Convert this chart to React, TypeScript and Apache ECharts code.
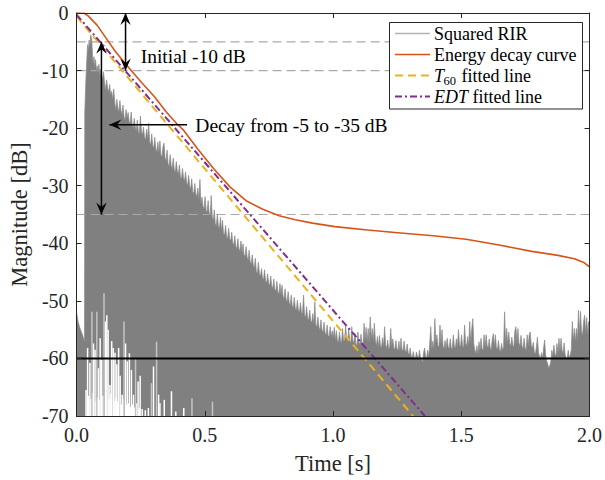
import React, { useEffect, useRef } from "react";
import * as echarts from "echarts";

// ---------- data ----------
const xMin = 0;
const xMax = 2;
const xInterval = 0.5;
const yMin = -70;
const yMax = 0;
const yInterval = 10;

// upper envelope of the squared RIR [time s, level dB]
const rirEnvelope: number[][] = [
  [0.000,-52.0],[0.006,-53.6],[0.012,-54.6],[0.018,-55.3],[0.024,-56.0],[0.029,-56.8],[0.031,-57.0],
  [0.032,-17.3],[0.036,-12.0],[0.040,-8.0],[0.043,-5.5],[0.046,-6.4],[0.049,-4.7],[0.052,-5.8],[0.055,-3.8],
  [0.059,-4.4],[0.062,-7.2],[0.065,-8.8],[0.068,-7.6],[0.071,-9.3],[0.074,-8.1],[0.078,-10.0],[0.081,-9.2],
  [0.084,-10.3],[0.087,-8.9],[0.091,-10.8],[0.094,-9.8],[0.098,-11.2],
  [0.101,-11.4],[0.105,-10.2],[0.109,-12.0],[0.113,-13.4],[0.117,-11.6],[0.121,-13.0],[0.125,-13.8],[0.129,-12.4],
  [0.133,-14.2],[0.137,-13.6],[0.141,-15.0],[0.145,-13.2],[0.149,-15.6],[0.153,-16.8],[0.157,-15.0],[0.161,-16.4],
  [0.165,-17.2],[0.169,-15.2],[0.173,-16.9],[0.177,-17.6],[0.181,-16.0],[0.185,-18.0],[0.189,-18.6],[0.193,-16.8],
  [0.197,-18.2],[0.201,-17.3],[0.205,-18.8],[0.209,-19.2],[0.213,-17.2],[0.217,-19.4],[0.221,-20.0],[0.225,-18.3],
  [0.229,-19.8],[0.233,-20.4],[0.237,-18.6],[0.241,-20.6],[0.245,-21.0],[0.249,-17.9],[0.253,-20.5],[0.257,-21.2],
  [0.261,-19.8],[0.265,-21.6],[0.269,-22.0],[0.273,-20.2],[0.277,-21.9],[0.281,-19.1],[0.285,-22.4],[0.289,-22.9],
  [0.293,-21.0],[0.297,-23.0],[0.301,-23.4],[0.305,-21.6],[0.309,-23.6],[0.313,-24.1],[0.317,-22.4],[0.321,-24.2],
  [0.325,-22.2],[0.329,-24.6],[0.333,-25.0],[0.337,-23.2],[0.341,-22.6],[0.345,-25.2],[0.349,-25.6],[0.353,-23.8],
  [0.357,-26.2],[0.361,-26.6],[0.365,-24.6],[0.369,-26.5],[0.373,-27.0],[0.377,-25.2],[0.381,-27.2],[0.385,-27.6],
  [0.389,-25.8],[0.393,-27.5],[0.397,-28.0],[0.401,-26.4],[0.405,-28.4],[0.409,-28.8],[0.413,-27.0],[0.417,-28.6],
  [0.421,-29.2],[0.425,-27.6],[0.429,-29.5],[0.433,-29.9],[0.437,-28.2],[0.441,-30.0],[0.445,-30.6],[0.449,-28.8],
  [0.453,-31.0],[0.457,-31.4],[0.461,-29.6],[0.465,-31.4],[0.469,-31.9],[0.473,-30.4],[0.477,-32.4],[0.481,-28.9],
  [0.485,-33.0],[0.489,-32.0],[0.493,-33.6],[0.497,-34.0],[0.501,-31.9],[0.505,-34.2],[0.509,-34.6],[0.513,-32.6],
  [0.517,-34.8],[0.521,-35.1],[0.525,-31.7],[0.529,-35.3],
  [0.533,-36.0],[0.537,-34.2],[0.541,-36.6],[0.545,-36.9],[0.549,-34.9],[0.553,-37.0],[0.557,-37.4],[0.561,-35.5],
  [0.565,-37.8],[0.569,-36.0],[0.573,-38.3],[0.577,-38.6],[0.581,-36.9],[0.585,-38.8],[0.589,-39.2],[0.593,-37.4],
  [0.597,-39.2],[0.601,-39.6],[0.605,-38.1],[0.609,-39.9],[0.613,-40.3],[0.617,-38.7],[0.621,-40.5],[0.625,-40.9],
  [0.629,-39.2],[0.633,-41.0],[0.637,-41.3],[0.641,-39.6],[0.645,-41.6],[0.649,-40.1],[0.653,-42.0],[0.657,-42.3],
  [0.661,-40.6],[0.665,-42.4],[0.669,-42.9],[0.673,-41.2],[0.677,-43.2],[0.681,-43.6],[0.685,-42.0],[0.689,-43.8],
  [0.693,-44.3],[0.697,-42.6],[0.701,-44.9],[0.705,-45.2],[0.709,-43.3],[0.713,-45.3],[0.717,-45.7],[0.721,-44.4],
  [0.725,-46.0],[0.729,-46.3],[0.733,-44.6],[0.737,-46.5],[0.741,-46.9],[0.745,-45.3],[0.749,-47.0],[0.753,-47.3],
  [0.757,-45.7],[0.761,-47.4],[0.765,-47.8],[0.769,-46.2],[0.773,-48.0],[0.777,-48.3],[0.781,-46.6],[0.785,-48.4],
  [0.789,-48.8],[0.793,-47.0],[0.797,-48.9],[0.801,-47.3],[0.805,-49.2],[0.809,-49.6],[0.813,-47.9],[0.817,-49.7],
  [0.821,-50.1],[0.825,-48.4],[0.829,-50.3],[0.833,-50.7],[0.837,-49.0],[0.841,-50.8],[0.845,-51.1],[0.849,-49.4],
  [0.853,-51.3],[0.857,-51.6],[0.861,-49.9],[0.865,-51.6],[0.869,-52.0],[0.873,-50.3],[0.877,-52.0],[0.881,-52.3],
  [0.885,-49.0],[0.889,-52.5],[0.893,-52.8],[0.897,-51.0],[0.901,-53.0],[0.905,-53.3],[0.909,-51.6],[0.913,-53.4],
  [0.917,-53.8],[0.921,-52.2],[0.925,-54.0],[0.929,-50.2],[0.933,-54.2],[0.937,-54.5],[0.941,-52.8],[0.945,-54.6],
  [0.949,-55.0],[0.953,-53.3],[0.957,-55.1],[0.961,-55.4],[0.965,-53.7],[0.969,-55.6],[0.973,-55.9],[0.977,-54.2],
  [0.981,-56.0],[0.985,-56.2],[0.989,-54.5],[0.993,-56.2],[0.997,-55.2],
  [1.001,-56.4],[1.005,-54.6],[1.009,-56.8],[1.013,-55.2],[1.017,-56.9],[1.021,-57.2],[1.025,-55.4],[1.029,-56.9],
  [1.033,-57.3],[1.037,-54.8],[1.041,-56.8],[1.045,-57.0],[1.049,-54.2],[1.053,-56.5],[1.057,-57.1],[1.061,-54.8],
  [1.065,-56.9],[1.069,-57.3],[1.073,-54.5],[1.077,-56.8],[1.081,-57.4],[1.085,-55.6],[1.089,-57.5],[1.093,-57.8],
  [1.097,-55.4],[1.101,-57.2],[1.105,-57.6],[1.109,-55.8],[1.113,-57.4],[1.117,-57.8],[1.121,-53.9],[1.125,-56.8],
  [1.129,-54.6],[1.133,-57.0],[1.137,-54.8],[1.141,-57.1],[1.145,-52.8],[1.149,-56.6],[1.153,-54.8],[1.157,-57.0],
  [1.161,-53.9],[1.165,-56.8],[1.169,-57.8],[1.173,-56.2],[1.177,-58.0],[1.181,-56.0],[1.185,-57.8],[1.189,-58.1],
  [1.193,-56.4],[1.197,-57.9],[1.201,-54.5],[1.205,-57.6],[1.209,-58.3],[1.213,-56.8],[1.217,-58.4],[1.221,-58.0],
  [1.225,-54.8],[1.229,-57.8],[1.233,-56.6],[1.237,-58.2],[1.241,-58.4],[1.245,-56.9],[1.249,-58.3],[1.253,-58.6],
  [1.257,-57.0],[1.261,-58.7],[1.265,-56.5],[1.269,-58.4],[1.273,-58.7],[1.277,-57.0],[1.281,-58.6],[1.285,-58.9],
  [1.289,-57.5],[1.293,-59.0],[1.297,-59.3],[1.301,-58.2],[1.305,-59.6],[1.309,-59.8],[1.313,-58.8],[1.317,-59.9],
  [1.321,-60.1],[1.325,-58.9],[1.329,-59.6],[1.333,-60.0],[1.337,-58.6],[1.341,-59.8],[1.345,-60.2],[1.349,-60.6],
  [1.353,-59.0],[1.357,-58.2],[1.361,-59.7],[1.365,-59.9],[1.369,-58.6],[1.373,-59.6],[1.377,-57.5],[1.381,-54.5],
  [1.385,-58.3],[1.389,-57.0],[1.393,-58.4],[1.397,-53.1],[1.401,-57.2],[1.405,-55.9],[1.409,-57.8],[1.413,-58.0],
  [1.417,-54.2],[1.421,-57.4],[1.425,-55.0],[1.429,-57.8],[1.433,-58.3],[1.437,-56.9],[1.441,-58.2],[1.445,-56.5],
  [1.449,-58.0],[1.453,-58.3],[1.457,-56.6],[1.461,-58.1],[1.465,-58.4],[1.469,-55.9],[1.473,-57.9],[1.477,-58.2],
  [1.481,-56.6],[1.485,-58.0],[1.489,-55.0],[1.493,-57.6],[1.497,-58.0],[1.501,-55.9],[1.505,-57.8],[1.509,-58.1],
  [1.513,-54.2],[1.517,-57.4],[1.521,-57.8],[1.525,-56.2],[1.529,-57.9],[1.533,-53.6],[1.537,-57.3],[1.541,-54.8],
  [1.545,-53.1],[1.549,-57.5],[1.553,-58.6],[1.557,-59.0],[1.561,-57.8],[1.565,-59.2],[1.569,-57.1],[1.573,-58.6],
  [1.577,-56.5],[1.581,-58.3],[1.585,-58.6],[1.589,-55.9],[1.593,-58.0],[1.597,-55.9],[1.601,-57.8],[1.605,-58.1],
  [1.609,-56.6],[1.613,-58.2],[1.617,-58.5],[1.621,-56.6],[1.625,-55.7],[1.629,-57.9],[1.633,-55.9],[1.637,-58.1],
  [1.641,-58.4],[1.645,-56.9],[1.649,-58.5],[1.653,-58.8],[1.657,-57.4],[1.661,-58.6],[1.665,-58.0],[1.669,-51.9],
  [1.673,-57.5],[1.677,-54.8],[1.681,-57.6],[1.685,-55.4],[1.689,-57.4],[1.693,-57.8],[1.697,-56.3],[1.701,-57.7],
  [1.705,-58.0],[1.709,-55.2],[1.713,-54.5],[1.717,-57.3],[1.721,-54.8],[1.725,-57.4],[1.729,-57.8],[1.733,-56.0],
  [1.737,-57.9],[1.741,-58.3],[1.745,-56.5],[1.749,-58.2],[1.753,-58.5],[1.757,-55.9],[1.761,-57.9],[1.765,-55.9],
  [1.769,-55.4],[1.773,-57.8],[1.777,-58.1],[1.781,-57.2],[1.785,-58.9],[1.789,-59.2],[1.793,-58.0],[1.797,-56.3],
  [1.801,-59.0],[1.805,-59.6],[1.809,-60.0],[1.813,-59.0],[1.817,-60.1],[1.821,-58.2],[1.825,-56.8],[1.829,-59.4],
  [1.833,-60.4],[1.837,-60.9],[1.841,-61.7],[1.845,-61.3],[1.849,-60.6],[1.853,-58.6],[1.857,-59.5],[1.861,-57.7],
  [1.865,-59.2],[1.869,-59.6],[1.873,-57.4],[1.877,-59.0],[1.881,-56.5],[1.885,-58.8],[1.889,-56.5],[1.893,-58.6],
  [1.897,-59.0],[1.901,-57.3],[1.905,-59.3],[1.909,-59.8],[1.913,-60.1],[1.917,-58.6],[1.921,-60.0],[1.925,-59.4],
  [1.929,-58.5],[1.933,-53.6],[1.937,-56.9],[1.941,-54.8],[1.945,-57.0],[1.949,-54.8],[1.953,-56.8],[1.957,-51.6],
  [1.961,-55.6],[1.965,-51.8],[1.969,-55.4],[1.973,-55.9],[1.977,-53.6],[1.981,-52.5],[1.985,-55.6],[1.989,-52.9],
  [1.993,-55.8],[1.997,-53.6],[2.000,-55.0]
];

// places where the squared RIR stays above a level (white gaps at the bottom) [time, top of gap dB]
const rirGaps: number[][] = [
  [0.037,-65.5],[0.043,-58.2],[0.047,-66.5],[0.052,-60.8],[0.056,-67.0],[0.062,-66.0],[0.066,-57.4],[0.072,-58.5],
  [0.076,-67.5],[0.081,-66.8],[0.085,-61.7],[0.088,-67.2],[0.092,-56.5],[0.098,-60.2],[0.103,-66.5],[0.112,-53.6],
  [0.118,-52.5],[0.123,-55.0],[0.127,-67.0],[0.130,-64.6],[0.134,-66.2],[0.137,-57.0],[0.143,-58.2],[0.146,-67.4],
  [0.150,-59.0],[0.153,-66.8],[0.157,-61.0],[0.160,-67.5],[0.164,-58.2],[0.170,-63.0],[0.174,-68.0],[0.178,-66.3],
  [0.182,-67.0],[0.191,-57.4],[0.194,-68.0],[0.198,-60.5],[0.202,-67.8],[0.206,-59.1],[0.210,-68.4],[0.214,-62.0],
  [0.218,-68.0],[0.222,-66.3],[0.226,-68.5],[0.234,-67.8],[0.240,-64.0],[0.244,-68.6],[0.248,-63.0],[0.256,-68.8],
  [0.268,-69.0],[0.280,-68.6],[0.300,-61.4],[0.320,-66.3],[0.325,-67.8],[0.342,-67.2],[0.370,-65.7],[0.387,-69.2],
  [0.418,-68.6]
];
const rirFaintGaps: number[][] = [
  [0.060,-51.9],[0.079,-51.9],[0.107,-48.7],[0.185,-53.6],[0.230,-60.0],[0.292,-64.3],[0.312,-57.1],[0.450,-66.9],[0.530,-67.5]
];

// energy decay curve [time, dB]
const edc: number[][] = [
  [0,0],[0.03,-0.05],[0.045,-0.5],[0.08,-2.1],[0.111,-4.1],[0.15,-6.6],[0.188,-8.7],[0.25,-11.9],[0.303,-14.5],
  [0.35,-17.2],[0.39,-19.2],[0.418,-20.4],[0.47,-23.5],[0.534,-27.0],[0.598,-30.2],[0.661,-32.6],[0.726,-34.1],
  [0.79,-35.2],[0.853,-35.9],[0.92,-36.5],[1.007,-37.1],[1.135,-37.7],[1.263,-38.2],[1.391,-38.7],[1.519,-39.3],
  [1.647,-40.3],[1.775,-41.4],[1.877,-42.1],[1.941,-42.7],[1.98,-43.4],[2.0,-44.1]
];

// fitted lines [time, dB]
const t60Line: number[][] = [[0, -0.6], [1.312, -70]];
const edtLine: number[][] = [[0, -0.3], [1.358, -70]];

// reference levels
const refLevels = [-5, -10, -35];
const noiseFloor = -60;

// annotations (data coordinates)
const arrowInitial = { from: [0.191, 0], to: [0.191, -10] };
const arrowDecay = { from: [0.097, -5], to: [0.097, -35] };
const arrowPointer = { from: [0.431, -19.4], to: [0.128, -19.4] };
const labelInitial = { at: [0.25, -7.6], text: "Initial -10 dB" };
const labelDecay = { at: [0.463, -19.5], text: "Decay from -5 to -35 dB" };

const legendNames = ["Squared RIR", "Energy decay curve", "fitted line", "fitted line"];

// ---------- component ----------
const FONT = "'Liberation Serif', 'Times New Roman', serif";
const AX = "#262626";

export default function App() {
  const ref = useRef<HTMLDivElement>(null);

  useEffect(() => {
    const chart = echarts.init(ref.current!, null, { renderer: "svg" });

    const axisCommon = {
      type: "value" as const,
      axisLine: { show: true, onZero: false, lineStyle: { color: AX, width: 1 } },
      axisTick: { show: true, inside: true, length: 5, lineStyle: { color: AX, width: 1 } },
      splitLine: { show: false },
      z: 10,
    };

    const gapSeries = (data: number[][], fill: string) => ({
      type: "custom",
      coordinateSystem: "cartesian2d",
      xAxisIndex: 0,
      yAxisIndex: 0,
      data,
      silent: true,
      clip: true,
      z: 3,
      encode: { x: 0, y: 1 },
      renderItem: (params: any, api: any) => {
        const top = api.coord([api.value(0), api.value(1)]);
        const bot = api.coord([api.value(0), yMin]);
        return {
          type: "rect",
          z2: 10,
          shape: { x: top[0] - 0.75, y: top[1], width: 1.5, height: bot[1] - top[1] },
          style: { fill },
        };
      },
    });

    const option: any = {
      animation: false,
      backgroundColor: "#ffffff",
      grid: { left: 71, right: 13, top: 13, bottom: 62, containLabel: false },
      xAxis: [
        {
          ...axisCommon,
          min: xMin, max: xMax, interval: xInterval,
          position: "bottom",
          axisLabel: {
            show: true, showMinLabel: true, showMaxLabel: true, margin: 9,
            formatter: (v: number) => v.toFixed(1),
            fontFamily: FONT, fontSize: 20, color: AX,
          },
          name: "Time [s]", nameLocation: "middle", nameGap: 36,
          nameTextStyle: { fontFamily: FONT, fontSize: 22.5, color: AX },
        },
        {
          ...axisCommon,
          min: xMin, max: xMax, interval: xInterval,
          position: "top",
          axisLabel: { show: false },
        },
      ],
      yAxis: [
        {
          ...axisCommon,
          min: yMin, max: yMax, interval: yInterval,
          position: "left",
          axisLabel: {
            show: true, showMinLabel: true, showMaxLabel: true, margin: 8,
            formatter: (v: number) => String(v),
            fontFamily: FONT, fontSize: 20, color: AX,
          },
          name: "Magnitude [dB]", nameLocation: "middle", nameGap: 38,
          nameTextStyle: { fontFamily: FONT, fontSize: 22.5, color: AX },
        },
        {
          ...axisCommon,
          min: yMin, max: yMax, interval: yInterval,
          position: "right",
          axisLabel: { show: false },
        },
      ],
      series: [
        ...refLevels.map((l) => ({
          type: "line",
          data: [[xMin, l], [xMax, l]],
          symbol: "none",
          silent: true,
          z: 2,
          lineStyle: { color: "#aaaaaa", width: 1.2, type: [9, 5] },
        })),
        {
          type: "line",
          name: "Squared RIR",
          data: rirEnvelope,
          symbol: "none",
          showSymbol: false,
          silent: true,
          z: 2,
          lineStyle: { color: "#8a8a8a", width: 0.7 },
          areaStyle: { color: "#808080", opacity: 1, origin: "start" },
        },
        gapSeries(rirGaps, "#ffffff"),
        gapSeries(rirFaintGaps, "#c4c4c4"),
        {
          type: "line",
          name: "Energy decay curve",
          data: edc,
          symbol: "none",
          z: 4,
          lineStyle: { color: "#D95319", width: 1.6 },
        },
        {
          type: "line",
          name: "T60 fitted line",
          data: t60Line,
          symbol: "none",
          z: 4,
          lineStyle: { color: "#EDB120", width: 2, type: [8, 5] },
        },
        {
          type: "line",
          name: "EDT fitted line",
          data: edtLine,
          symbol: "none",
          z: 4,
          lineStyle: { color: "#7E2F8E", width: 2, type: [7, 3, 2, 3] },
        },
        {
          type: "line",
          data: [[xMin, noiseFloor], [xMax, noiseFloor]],
          symbol: "none",
          silent: true,
          z: 5,
          lineStyle: { color: "#000000", width: 2 },
        },
      ],
    };

    chart.setOption(option);

    const toPx = (p: number[]) =>
      chart.convertToPixel({ xAxisIndex: 0, yAxisIndex: 0 }, p) as number[];

    const head = (tip: number[], tail: number[]) => {
      const dx = tip[0] - tail[0];
      const dy = tip[1] - tail[1];
      const len = Math.hypot(dx, dy) || 1;
      const ux = dx / len, uy = dy / len;
      const nx = -uy, ny = ux;
      const L = 12, W = 5.2, N = 4.5;
      return {
        type: "polygon",
        z: 100,
        shape: {
          points: [
            [tip[0], tip[1]],
            [tip[0] - ux * L + nx * W, tip[1] - uy * L + ny * W],
            [tip[0] - ux * (L - N), tip[1] - uy * (L - N)],
            [tip[0] - ux * L - nx * W, tip[1] - uy * L - ny * W],
          ],
        },
        style: { fill: "#000000" },
      };
    };

    const arrow = (a: { from: number[]; to: number[] }, both: boolean) => {
      const p1 = toPx(a.from);
      const p2 = toPx(a.to);
      const els: any[] = [
        {
          type: "line",
          z: 100,
          shape: { x1: p1[0], y1: p1[1], x2: p2[0], y2: p2[1] },
          style: { stroke: "#000000", lineWidth: 1.5 },
        },
        head(p2, p1),
      ];
      if (both) els.push(head(p1, p2));
      return els;
    };

    const annText = (l: { at: number[]; text: string }) => {
      const p = toPx(l.at);
      return {
        type: "text",
        z: 100,
        x: p[0],
        y: p[1],
        style: {
          text: l.text,
          fill: "#000000",
          font: `19.5px ${FONT}`,
          textAlign: "left",
          textVerticalAlign: "middle",
          verticalAlign: "middle",
        },
      };
    };

    // legend (drawn box, as in the reference)
    const lgX = 389.5, lgY = 22.5, lgW = 193, lgH = 86.5;
    const rows = [33.5, 54.5, 75.5, 96.5];
    const sampleX1 = 395, sampleX2 = 430, textX = 434;
    const sampleStyles = [
      { stroke: "#b3b3b3", lineWidth: 1.5 },
      { stroke: "#D95319", lineWidth: 1.5 },
      { stroke: "#EDB120", lineWidth: 2, lineDash: [8, 5] },
      { stroke: "#7E2F8E", lineWidth: 2, lineDash: [7, 3, 2, 3] },
    ];
    const txt = (x: number, y: number, text: string, size: number, italic = false) => ({
      type: "text",
      z: 101,
      x,
      y,
      style: {
        text,
        fill: "#000000",
        font: `${italic ? "italic " : ""}${size}px ${FONT}`,
        textAlign: "left",
        textVerticalAlign: "middle",
        verticalAlign: "middle",
      },
    });
    const legendEls: any[] = [
      {
        type: "rect",
        z: 99,
        shape: { x: lgX, y: lgY, width: lgW, height: lgH },
        style: { fill: "#ffffff", stroke: AX, lineWidth: 1 },
      },
      ...rows.map((ry, i) => ({
        type: "line",
        z: 100,
        shape: { x1: sampleX1, y1: ry, x2: sampleX2, y2: ry },
        style: sampleStyles[i],
      })),
      txt(textX, rows[0] + 0.5, legendNames[0], 18),
      txt(textX, rows[1] + 0.5, legendNames[1], 18),
      txt(textX, rows[2] + 0.5, "T", 18, true),
      txt(textX + 9.5, rows[2] + 5, "60", 12.5),
      txt(textX + 27.5, rows[2] + 0.5, legendNames[2], 18),
      txt(textX, rows[3] + 0.5, "EDT", 18, true),
      txt(textX + 38.5, rows[3] + 0.5, legendNames[3], 18),
    ];

    chart.setOption({
      graphic: [
        ...arrow(arrowInitial, true),
        ...arrow(arrowDecay, true),
        ...arrow(arrowPointer, false),
        annText(labelInitial),
        annText(labelDecay),
        ...legendEls,
      ],
    });

    return () => chart.dispose();
  }, []);

  return (
    <div
      ref={ref}
      style={{ position: "absolute", left: 0, top: 0, width: 605, height: 480 }}
    />
  );
}
